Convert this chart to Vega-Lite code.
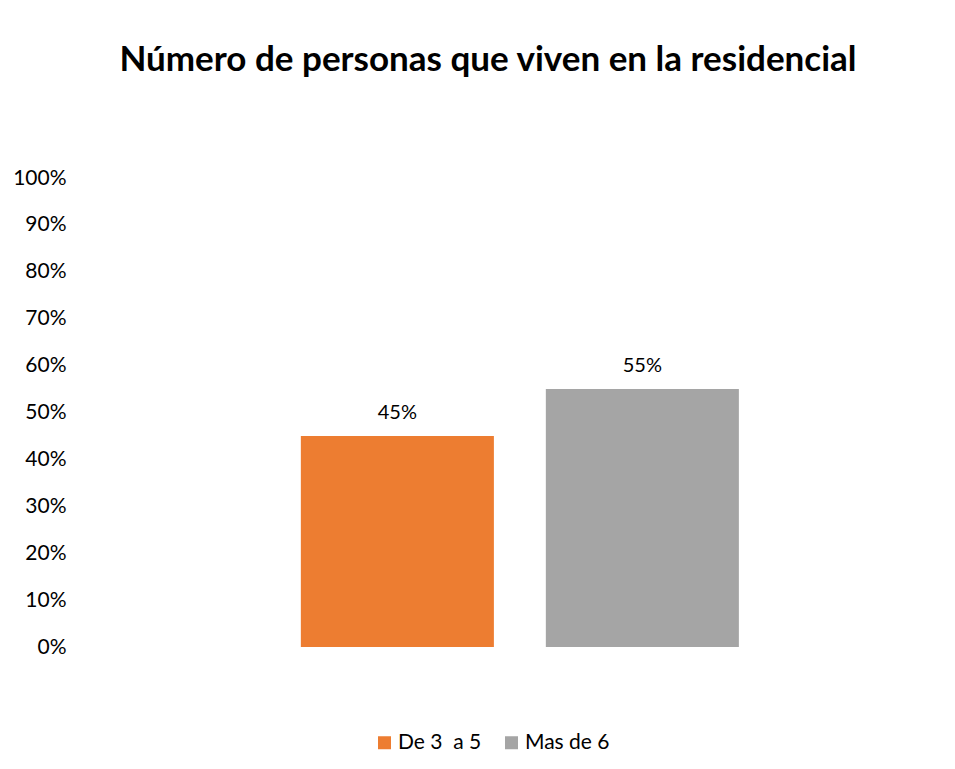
{
  "$schema": "https://vega.github.io/schema/vega-lite/v6.json",
  "autosize": "none",
  "width": 880,
  "height": 469,
  "padding": {"left": 75, "top": 178, "right": 0, "bottom": 122},
  "background": "white",
  "config": {
    "view": {"stroke": null},
    "font": "Lato"
  },
  "title": {
    "text": "Número de personas que viven en la residencial",
    "font": "Lato",
    "fontSize": 35,
    "fontWeight": "bold",
    "color": "#000000",
    "anchor": "middle",
    "frame": "group",
    "baseline": "alphabetic",
    "offset": 61,
    "dx": -27
  },
  "data": {
    "values": [
      {"serie": "De 3  a 5", "valor": 0.45},
      {"serie": "Mas de 6", "valor": 0.55}
    ]
  },
  "encoding": {
    "x": {
      "field": "serie",
      "type": "nominal",
      "sort": null,
      "axis": null,
      "scale": {"paddingInner": 0.212, "paddingOuter": 0.902, "align": 0.511}
    },
    "y": {
      "field": "valor",
      "type": "quantitative",
      "scale": {"domain": [0, 1], "nice": false},
      "axis": {
        "title": null,
        "format": ".0%",
        "values": [0, 0.1, 0.2, 0.3, 0.4, 0.5, 0.6, 0.7, 0.8, 0.9, 1],
        "domain": false,
        "ticks": false,
        "tickSize": 0,
        "grid": false,
        "labelPadding": 9,
        "labelFontSize": 21,
        "labelColor": "#000000",
        "labelFont": "Lato"
      }
    }
  },
  "layer": [
    {
      "mark": {"type": "bar"},
      "encoding": {
        "color": {
          "field": "serie",
          "type": "nominal",
          "sort": null,
          "scale": {"domain": ["De 3  a 5", "Mas de 6"], "range": ["#ED7D31", "#A5A5A5"]},
          "legend": {
            "title": null,
            "orient": "none",
            "direction": "horizontal",
            "legendX": 299,
            "legendY": 554,
            "symbolType": "square",
            "symbolSize": 169,
            "symbolStrokeWidth": 0,
            "labelFontSize": 21,
            "labelFont": "Lato",
            "labelColor": "#000000",
            "labelExpr": "replace(datum.label, '  ', '\u00a0 ')",
            "columnPadding": 19,
            "labelOffset": 3
          }
        }
      }
    },
    {
      "mark": {"type": "text", "baseline": "alphabetic", "dy": -17, "fontSize": 20, "font": "Lato", "color": "#000000"},
      "encoding": {
        "text": {"field": "valor", "type": "quantitative", "format": ".0%"}
      }
    }
  ]
}
